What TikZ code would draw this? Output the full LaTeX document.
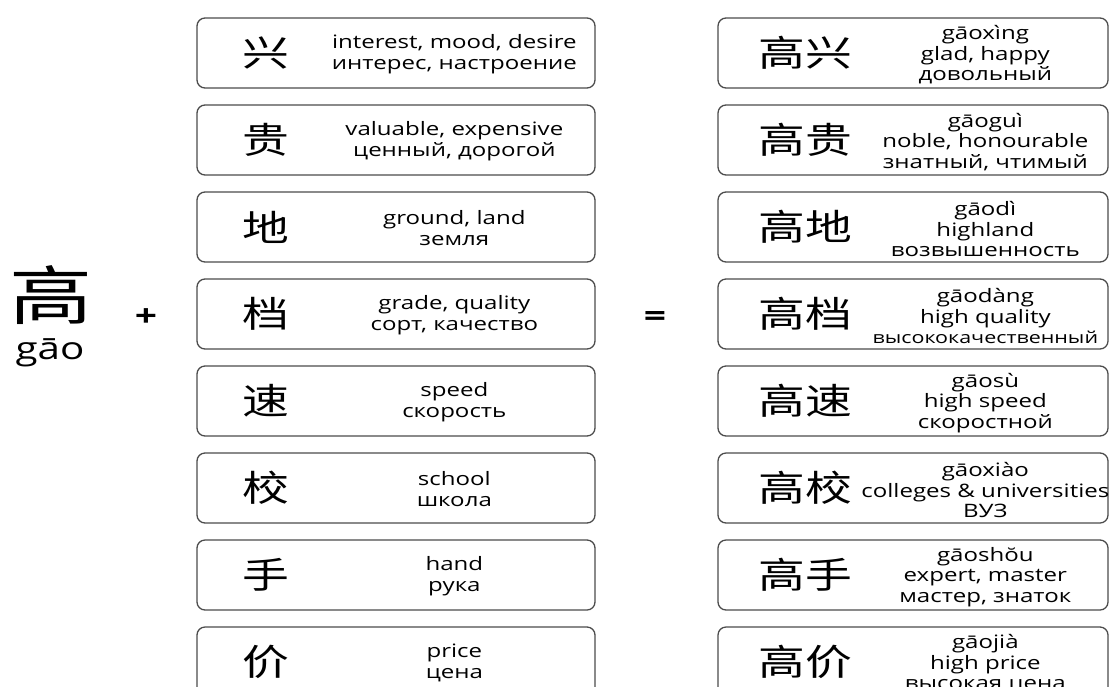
\documentclass[tikz,border=0pt]{standalone}
\usepackage{fontspec}
\setmainfont[FakeStretch=1.3]{Open Sans}
\newfontfamily\cjk[FakeStretch=1.3]{Noto Sans CJK SC}
\newcommand\smallline[1]{{\fontsize{16.5}{20}\selectfont #1}}
\begin{document}
\begin{tikzpicture}[x=1pt,y=-1pt,
  card/.style={draw=black!70, line width=1.3pt, rounded corners=8pt,
    minimum width=#1, minimum height=70pt, inner sep=0pt},
  hanzi/.style={font=\cjk\fontsize{36}{40}\selectfont, inner sep=0pt},
  gloss/.style={font=\fontsize{18.5}{20.5}\selectfont, align=center, inner sep=0pt},
  sign/.style={font=\bfseries\fontsize{30}{34}\selectfont, inner sep=0pt},
]
\useasboundingbox (0,0) rectangle (1110,686);
\clip (0,0) rectangle (1110,686);

% the root character
\node[font=\cjk\fontsize{64}{68}\selectfont, inner sep=0pt] (root) at (51,295) {高};
\node[font=\fontsize{31}{35}\selectfont, inner sep=0pt] (rootpy) at (50,353) {gāo};
\node[sign] (plus) at (146,318) {+};
\node[sign] (equals) at (655,319) {=};

% second characters
\foreach \ch/\txt [count=\i from 0] in {
  兴/{interest, mood, desire\\интерес, настроение},
  贵/{valuable, expensive\\ценный, дорогой},
  地/{ground, land\\земля},
  档/{grade, quality\\сорт, качество},
  速/{speed\\скорость},
  校/{school\\школа},
  手/{hand\\рука},
  价/{price\\цена}}{
  \node[card=398pt] (L\i) at (396,53+87*\i) {};
  \node[hanzi] (Lc\i) at ([xshift=70pt]L\i.west) {\ch};
  \node[gloss] (Lt\i) at ([xshift=258pt,yshift=-1pt]L\i.west) {\txt};
}

% resulting words
\foreach \ch/\py/\en/\ru [count=\i from 0] in {
  兴/gāoxìng/{glad, happy}/довольный,
  贵/gāoguì/{noble, honourable}/{знатный, чтимый},
  地/gāodì/highland/возвышенность,
  档/gāodàng/high quality/{\smallline{высококачественный}},
  速/gāosù/high speed/скоростной,
  校/gāoxiào/{colleges \& universities}/ВУЗ,
  手/gāoshŏu/{expert, master}/{мастер, знаток},
  价/gāojià/high price/высокая цена}{
  \node[card=390pt] (R\i) at (913,53+87*\i) {};
  \node[hanzi] (Rc\i) at ([xshift=88pt]R\i.west) {高\ch};
  \node[gloss] (Rt\i) at ([xshift=268pt,yshift=-2pt]R\i.west) {\py\\\en\\\ru};
}
\end{tikzpicture}
\end{document}
